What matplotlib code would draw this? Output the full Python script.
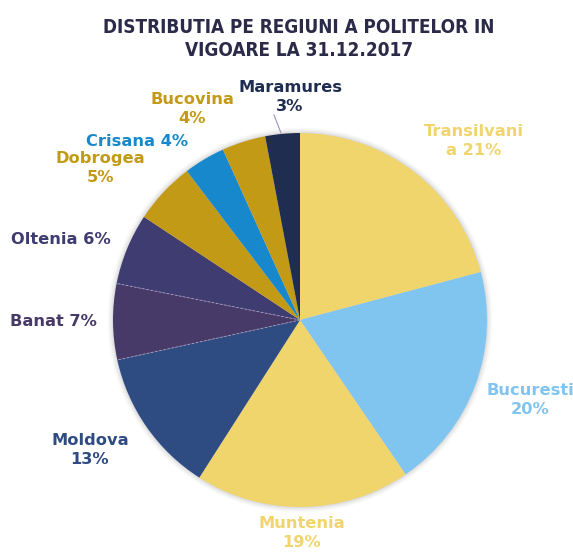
import matplotlib.pyplot as plt
from matplotlib.patches import Circle
import numpy as np

W, H = 573, 556

regions = ["Transilvania", "Bucuresti", "Muntenia", "Moldova", "Banat",
           "Oltenia", "Dobrogea", "Crisana", "Bucovina", "Maramures"]
shares = [21.0, 19.7, 18.7, 12.6, 6.6, 6.2, 5.4, 3.6, 3.8, 3.0]
label_texts = ["Transilvani\na 21%", "Bucuresti\n20%", "Muntenia\n19%",
               "Moldova\n13%", "Banat 7%", "Oltenia 6%", "Dobrogea\n5%",
               "Crisana 4%", "Bucovina\n4%", "Maramures\n3%"]
colors = ["#F0D46C", "#80C4F0", "#F0D46C", "#2E4C82", "#473A68",
          "#3F3C72", "#C39A16", "#1888CC", "#C39A16", "#1E2D50"]

# label centres in pixel coords (x from left, y from top)
label_pos = [(474, 141), (530, 400), (302, 533), (90, 450), (53, 322),
             (61, 240), (100, 168), (137, 142), (192, 109), (290, 97)]


def px(x, y):
    return x, H - y


fig = plt.figure(figsize=(W / 100, H / 100), dpi=100)
ax = fig.add_axes([0, 0, 1, 1])

center = px(300, 320)
radius = 187

# soft shadow around the pie
for i, a in enumerate([0.05, 0.04, 0.03, 0.02]):
    ax.add_patch(Circle(center, radius + 1 + i * 1.5, color="#000000",
                        alpha=a, lw=0, zorder=0))

wedges, _ = ax.pie(shares, colors=colors, startangle=90, counterclock=False,
                   center=center, radius=radius, frame=True,
                   wedgeprops=dict(linewidth=0))
ax.set_xlim(0, W)
ax.set_ylim(0, H)
ax.set_aspect("equal")
ax.axis("off")

# faint dashed borders around the Banat slice
banat = wedges[regions.index("Banat")]
for ang in (banat.theta1, banat.theta2):
    t = np.deg2rad(ang)
    ax.plot([center[0], center[0] + radius * np.cos(t)],
            [center[1], center[1] + radius * np.sin(t)],
            color="#A99FC0", lw=0.6, ls=(0, (3, 2)), zorder=5)

for txt, (x, y), c in zip(label_texts, label_pos, colors):
    ax.text(*px(x, y), txt, color=c, fontsize=11.7, fontweight="bold",
            ha="center", va="center", linespacing=1.3, family="DejaVu Sans")

# leader line for Maramures
ax.plot([274, 281], [H - 115, H - 133], color="#9C95B8", lw=0.8)

ax.text(*px(299, 39), "DISTRIBUTIA PE REGIUNI A POLITELOR IN\nVIGOARE LA 31.12.2017",
        color="#2B2A48", fontsize=13.6, fontweight="bold", ha="center",
        va="center", linespacing=1.3, family="DejaVu Sans",
        fontstretch="condensed")

fig.savefig("out.png", dpi=100)
